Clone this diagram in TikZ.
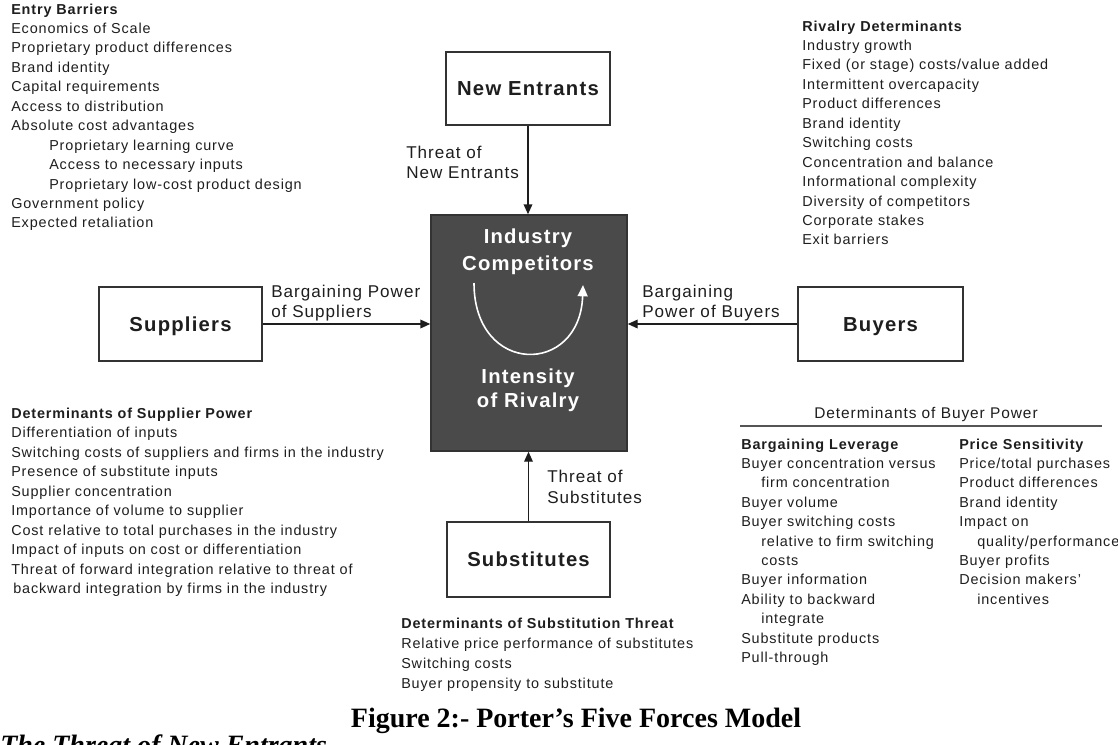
\documentclass[tikz,border=0pt]{standalone}
\usepackage{fontspec}
\setmainfont{Liberation Sans}[LetterSpace=6]
\newfontfamily\capfont{Liberation Serif}
\usetikzlibrary{arrows.meta}
\definecolor{txt}{HTML}{1E1E1E}
\definecolor{boxc}{HTML}{333333}
\definecolor{corefill}{HTML}{4A4A4A}
\definecolor{rulec}{HTML}{555555}
\newcommand\indA{\hspace*{28.5pt}}
\newcommand\indB{\hspace*{15pt}}
\newcommand\indC{\hspace*{13.5pt}}
\newcommand\indD{\hspace*{1.5pt}}
\begin{document}
\begin{tikzpicture}[x=0.75pt,y=-0.75pt,
 small/.style={font=\fontsize{10.8pt}{12pt}\selectfont, text=txt, inner sep=0pt, anchor=base west},
 smallb/.style={small, font=\fontsize{10.8pt}{12pt}\selectfont\bfseries},
 lbl/.style={font=\fontsize{12.8pt}{14pt}\selectfont, text=txt, inner sep=0pt, anchor=base west},
 forcebox/.style={draw=boxc, line width=1.1pt, fill=white, font=\fontsize{15.2pt}{16pt}\selectfont\bfseries, text=txt, text height=10.9pt, text depth=0pt, inner sep=0pt},
 core/.style={draw=boxc, line width=1.1pt, fill=corefill, inner sep=0pt},
 coretxt/.style={font=\fontsize{15.2pt}{16pt}\selectfont\bfseries, text=white, inner sep=0pt, anchor=base},
 arr/.style={draw=txt, line width=1.1pt, -{Triangle[length=7.5pt,width=6.5pt]}},
 captxt/.style={font=\capfont\bfseries\fontsize{21pt}{23pt}\selectfont, text=black, inner sep=0pt},
]
\useasboundingbox (0,0) rectangle (1118,744);
\fill[white] (0,0) rectangle (1118,744);

% force boxes
\node[forcebox, minimum width=123pt, minimum height=54.75pt] (ne) at (528,88.5) {New Entrants};
\node[forcebox, minimum width=122.25pt, minimum height=55.5pt] (sup) at (180.5,324) {Suppliers};
\node[forcebox, minimum width=123.75pt, minimum height=55.5pt] (buy) at (880.5,324) {Buyers};
\node[forcebox, minimum width=122.25pt, minimum height=56.25pt] (sub) at (528.5,559.5) {Substitutes};
\node[core, minimum width=147pt, minimum height=177pt] (ic) at (529,333) {};

% core texts
\node[coretxt] (ic1) at (528,243) {Industry};
\node[coretxt] (ic2) at (528,270) {Competitors};
\node[coretxt] (ir1) at (528,383) {Intensity};
\node[coretxt] (ir2) at (528,407) {of Rivalry};
\coordinate (a0) at (474,283);
\coordinate (a1) at (583,285);
\draw[white, line width=1.2pt, -{Triangle[length=8.5pt,width=7.5pt]}] (a0) .. controls (474,376) and (580,376) .. (a1);

% connectors
\draw[arr] (ne.south) -- (ne.south |- ic.north);
\draw[arr] (sup.east) -- (sup.east -| ic.west);
\draw[arr] (buy.west) -- (buy.west -| ic.east);
\draw[arr] (sub.north) -- (sub.north |- ic.south);

% connector labels
\node[lbl] (tne1) at (406,158) {Threat of};
\node[lbl] (tne2) at (406,178) {New Entrants};
\node[lbl] (bps1) at (271,297) {Bargaining Power};
\node[lbl] (bps2) at (271,317) {of Suppliers};
\node[lbl] (bpb1) at (642,297) {Bargaining};
\node[lbl] (bpb2) at (642,317) {Power of Buyers};
\node[lbl] (ts1) at (547,482) {Threat of};
\node[lbl] (ts2) at (547,503) {Substitutes};

% Entry barriers
\node[smallb] (eb0) at (11,14) {Entry Barriers};
\foreach \t [count=\i] in {Economics of Scale, Proprietary product differences, Brand identity, Capital requirements, Access to distribution, Absolute cost advantages, \indA Proprietary learning curve, \indA Access to necessary inputs, \indA Proprietary low-cost product design, Government policy, Expected retaliation}
  \node[small] (eb\i) at (11,14+\i*19.45) {\t};

% Rivalry determinants
\node[smallb] (rd0) at (802,31) {Rivalry Determinants};
\foreach \t [count=\i] in {Industry growth, Fixed (or stage) costs/value added, Intermittent overcapacity, Product differences, Brand identity, Switching costs, Concentration and balance, Informational complexity, Diversity of competitors, Corporate stakes, Exit barriers}
  \node[small] (rd\i) at (802,31+\i*19.45) {\t};

% Supplier power
\node[smallb] (sp0) at (11,418) {Determinants of Supplier Power};
\foreach \t [count=\i] in {Differentiation of inputs, Switching costs of suppliers and firms in the industry, Presence of substitute inputs, Supplier concentration, Importance of volume to supplier, Cost relative to total purchases in the industry, Impact of inputs on cost or differentiation, Threat of forward integration relative to threat of, \indD backward integration by firms in the industry}
  \node[small] (sp\i) at (11,418+\i*19.5) {\t};

% Substitution threat
\node[smallb] (st0) at (401,628) {Determinants of Substitution Threat};
\foreach \t [count=\i] in {Relative price performance of substitutes, Switching costs, Buyer propensity to substitute}
  \node[small] (st\i) at (401,628+\i*20) {\t};

% Buyer power
\node[small, anchor=base, font=\fontsize{11.6pt}{13pt}\selectfont] (bp) at (926,418) {Determinants of Buyer Power};
\coordinate (bpl) at (740,426);
\coordinate (bpr) at (1102,426);
\draw[rulec, line width=1.2pt] (bpl) -- (bpr);
\node[smallb] (bl0) at (741,449) {Bargaining Leverage};
\foreach \t [count=\i] in {Buyer concentration versus, \indB firm concentration, Buyer volume, Buyer switching costs, \indB relative to firm switching, \indB costs, Buyer information, Ability to backward, \indB integrate, Substitute products, Pull-through}
  \node[small] (bl\i) at (741,449+\i*19.4) {\t};
\node[smallb] (ps0) at (959,449) {Price Sensitivity};
\foreach \t [count=\i] in {Price/total purchases, Product differences, Brand identity, Impact on, \indC quality/performance, Buyer profits, Decision makers’, \indC incentives}
  \node[small] (ps\i) at (959,449+\i*19.4) {\t};

% caption
\node[captxt, anchor=base] (cap) at (576,727) {Figure 2:- Porter’s Five Forces Model};
\node[captxt, anchor=base west, font=\capfont\bfseries\itshape\fontsize{21pt}{23pt}\selectfont] (thr) at (0,754) {The Threat of New Entrants};
\end{tikzpicture}
\end{document}
